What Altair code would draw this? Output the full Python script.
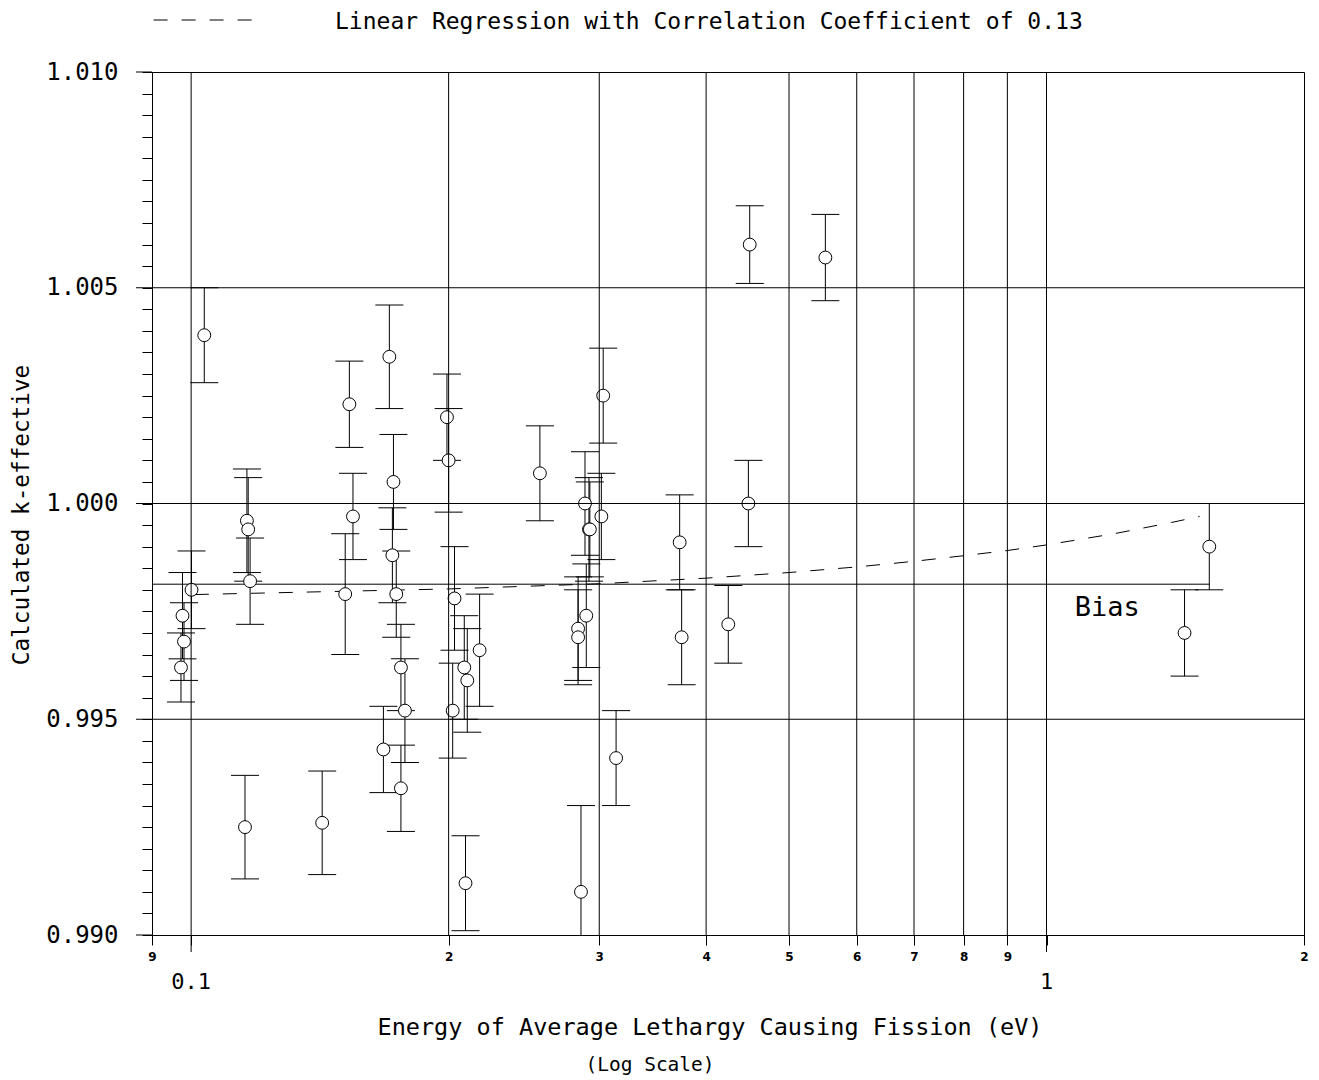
import altair as alt
import pandas as pd

# ---- data ----
energy = [0.1036, 0.1531, 0.1705, 0.1991, 0.2000, 0.1724, 0.1546, 0.1162, 0.1166, 0.1172,
          0.1001, 0.0977, 0.0981, 0.0973, 0.1514, 0.1719, 0.1737, 0.1759, 0.1778, 0.1759,
          0.1678, 0.2032, 0.2022, 0.2086, 0.2103, 0.2174, 0.2093, 0.1156, 0.1423, 0.2557,
          0.3032, 0.2887, 0.3017, 0.2918, 0.2925, 0.2897, 0.2834, 0.2834, 0.3139, 0.2856,
          0.4498, 0.5514, 0.4482, 0.3725, 0.3745, 0.4246, 1.5499, 1.4500]
keff = [1.0039, 1.0023, 1.0034, 1.0020, 1.0010, 1.0005, 0.9997, 0.9996, 0.9994, 0.9982,
        0.9980, 0.9974, 0.9968, 0.9962, 0.9979, 0.9988, 0.9979, 0.9962, 0.9952, 0.9934,
        0.9943, 0.9978, 0.9952, 0.9962, 0.9959, 0.9966, 0.9912, 0.9925, 0.9926, 1.0007,
        1.0025, 1.0000, 0.9997, 0.9994, 0.9994, 0.9974, 0.9971, 0.9969, 0.9941, 0.9910,
        1.0060, 1.0057, 1.0000, 0.9991, 0.9969, 0.9972, 0.9990, 0.9970]
keff_err = [0.0011, 0.0010, 0.0012, 0.0010, 0.0012, 0.0011, 0.0010, 0.0012, 0.0012, 0.0010,
            0.0009, 0.0010, 0.0009, 0.0008, 0.0014, 0.0011, 0.0010, 0.0010, 0.0012, 0.0010,
            0.0010, 0.0012, 0.0011, 0.0012, 0.0012, 0.0013, 0.0011, 0.0012, 0.0012, 0.0011,
            0.0011, 0.0012, 0.0010, 0.0012, 0.0011, 0.0012, 0.0012, 0.0011, 0.0011, 0.0020,
            0.0009, 0.0010, 0.0010, 0.0011, 0.0011, 0.0009, 0.0010, 0.0010]

# dashed regression line
reg_energy = [0.101, 0.2, 0.3, 0.4, 0.5, 0.6, 0.7, 0.8, 0.9, 1.0, 1.2, 1.4, 1.51]
reg_keff = [0.99789, 0.99802, 0.99814, 0.99827, 0.99840, 0.99853, 0.99866,
            0.99879, 0.99891, 0.99904, 0.99930, 0.99956, 0.99970]

bias_keff = 0.99813
bias_energy = [0.09, 1.55]
bias_label = "Bias"
bias_label_pos = [1.178, 0.99758]

legend_text = "Linear Regression with Correlation Coefficient of 0.13"
x_title = "Energy of Average Lethargy Causing Fission (eV)"
x_subtitle = "(Log Scale)"
y_title = "Calculated k-effective"

# x axis: small-digit ticks and the two decade labels
x_ticks = [0.09, 0.1, 0.2, 0.3, 0.4, 0.5, 0.6, 0.7, 0.8, 0.9, 1.0, 2.0]
x_decades = [0.1, 1.0]
x_decade_labels = ["0.1", "1"]
x_grid = [0.1, 0.2, 0.3, 0.4, 0.5, 0.6, 0.7, 0.8, 0.9, 1.0]

# y axis: minor ticks every 0.0005, labelled majors every 0.005
y_ticks = [0.9900, 0.9905, 0.9910, 0.9915, 0.9920, 0.9925, 0.9930, 0.9935, 0.9940, 0.9945,
           0.9950, 0.9955, 0.9960, 0.9965, 0.9970, 0.9975, 0.9980, 0.9985, 0.9990, 0.9995,
           1.0000, 1.0005, 1.0010, 1.0015, 1.0020, 1.0025, 1.0030, 1.0035, 1.0040, 1.0045,
           1.0050, 1.0055, 1.0060, 1.0065, 1.0070, 1.0075, 1.0080, 1.0085, 1.0090, 1.0095,
           1.0100]
y_major = [0.990, 0.995, 1.000, 1.005, 1.010]
y_grid = [0.995, 1.000, 1.005]

MONO = "DejaVu Sans Mono"

df = pd.DataFrame({"energy": energy, "keff": keff, "err": keff_err})
df["lo"] = df["keff"] - df["err"]
df["hi"] = df["keff"] + df["err"]

reg_df = pd.DataFrame({"energy": reg_energy, "keff": reg_keff})
bias_df = pd.DataFrame({"e1": [bias_energy[0]], "e2": [bias_energy[1]], "k": [bias_keff]})
bias_txt_df = pd.DataFrame({"energy": [bias_label_pos[0]], "keff": [bias_label_pos[1]], "t": [bias_label]})
dec_df = pd.DataFrame({"energy": x_decades, "t": x_decade_labels})
xgrid_df = pd.DataFrame({"energy": x_grid})
ygrid_df = pd.DataFrame({"keff": y_grid})
ymaj_df = pd.DataFrame({"keff": y_major})

xscale = alt.Scale(type="log", domain=[0.09, 2.0], nice=False)
yscale = alt.Scale(domain=[0.990, 1.010], nice=False, zero=False)

xaxis = alt.Axis(
    values=x_ticks,
    title=None,
    grid=False,
    domain=True,
    domainColor="black",
    tickColor="black",
    tickWidth=1,
    tickSize=10,
    labelExpr="(datum.value > 0.095 && datum.value < 0.105) || (datum.value > 0.95 && datum.value < 1.05) ? '' : datum.value < 0.1 ? '9' : datum.value > 1.5 ? '2' : format(round(datum.value * 10), 'd')",
    labelFont="DejaVu Sans",
    labelFontSize=12,
    labelFontWeight="bold",
    labelPadding=6,
    labelColor="black",
    labelFlush=False,
    labelOverlap=False,
)

yaxis = alt.Axis(
    values=y_ticks,
    title=None,
    grid=False,
    domain=True,
    domainColor="black",
    tickColor="black",
    tickWidth=1,
    tickSize=10,
    labelExpr="abs(datum.value * 200 - round(datum.value * 200)) < 0.000001 ? format(datum.value, '.3f') : ''",
    labelFont=MONO,
    labelFontSize=24,
    labelPadding=24,
    labelColor="black",
    labelFlush=False,
    labelOverlap=False,
)

# every layer carries the same axis definition so the shared axes are kept
X = lambda f: alt.X(f, scale=xscale, axis=xaxis)
Y = lambda f: alt.Y(f, scale=yscale, axis=yaxis)

base = alt.Chart(df)

bars = base.mark_rule(color="black", strokeWidth=1, clip=True).encode(
    x=X("energy:Q"), y=Y("lo:Q"), y2="hi:Q",
)
cap_lo = base.mark_tick(orient="horizontal", size=28, thickness=1, color="black", opacity=1, clip=True).encode(
    x=X("energy:Q"), y=Y("lo:Q"),
)
cap_hi = base.mark_tick(orient="horizontal", size=28, thickness=1, color="black", opacity=1, clip=True).encode(
    x=X("energy:Q"), y=Y("hi:Q"),
)
points = base.mark_point(shape="circle", size=165, filled=True, fill="white", fillOpacity=1,
                         stroke="black", strokeWidth=1, opacity=1, clip=True).encode(
    x=X("energy:Q"), y=Y("keff:Q"),
)
reg = alt.Chart(reg_df).mark_line(color="black", strokeWidth=1, strokeDash=[14, 14], clip=True).encode(
    x=X("energy:Q"), y=Y("keff:Q"),
)
bias = alt.Chart(bias_df).mark_rule(color="black", strokeWidth=1).encode(
    x=X("e1:Q"), x2="e2:Q", y=Y("k:Q"),
)
bias_txt = alt.Chart(bias_txt_df).mark_text(font=MONO, fontSize=27, color="black", align="center", baseline="middle").encode(
    x=X("energy:Q"), y=Y("keff:Q"), text="t:N",
)

# grid lines (drawn above the symbols, as in the reference)
xgrid = alt.Chart(xgrid_df).mark_rule(color="black", strokeWidth=1).encode(
    x=X("energy:Q"), y=alt.value(0), y2=alt.value(863)
)
ygrid = alt.Chart(ygrid_df).mark_rule(color="black", strokeWidth=1).encode(
    y=Y("keff:Q"), x=alt.value(0), x2=alt.value(1152)
)
# longer ticks and big labels for the decades, longer ticks for labelled k values
xdec_tick = alt.Chart(dec_df).mark_rule(color="black", strokeWidth=1).encode(
    x=X("energy:Q"), y=alt.value(863), y2=alt.value(880)
)
xdec_lbl = alt.Chart(dec_df).mark_text(font=MONO, fontSize=22, color="black", align="center", baseline="middle").encode(
    x=X("energy:Q"), y=alt.value(910), text="t:N"
)
ymaj_tick = alt.Chart(ymaj_df).mark_rule(color="black", strokeWidth=1).encode(
    y=Y("keff:Q"), x=alt.value(-16), x2=alt.value(0)
)

one = pd.DataFrame({"t": [legend_text], "xt": [x_title], "xs": [x_subtitle], "yt": [y_title]})
legend_line = alt.Chart(one).mark_rule(color="black", strokeWidth=1, strokeDash=[14, 14]).encode(
    x=alt.value(1.6), x2=alt.value(100), y=alt.value(-52)
)
legend_lbl = alt.Chart(one).mark_text(font=MONO, fontSize=23, color="black", align="left", baseline="middle").encode(
    x=alt.value(183), y=alt.value(-50), text="t:N"
)
xtitle = alt.Chart(one).mark_text(font=MONO, fontSize=23.5, color="black", align="center", baseline="middle").encode(
    x=alt.value(558), y=alt.value(956), text="xt:N"
)
xsub = alt.Chart(one).mark_text(font=MONO, fontSize=19.5, color="black", align="center", baseline="middle").encode(
    x=alt.value(498), y=alt.value(993), text="xs:N"
)
ytitle = alt.Chart(one).mark_text(font=MONO, fontSize=22.7, color="black", align="center", baseline="middle", angle=270).encode(
    x=alt.value(-130), y=alt.value(443), text="yt:N"
)

chart = alt.layer(
    bars, cap_lo, cap_hi, reg, bias, points, xgrid, ygrid, bias_txt,
    xdec_tick, xdec_lbl, ymaj_tick,
    legend_line, legend_lbl, xtitle, xsub, ytitle
).properties(
    width=1152, height=863,
    autosize=alt.AutoSizeParams(type="none"),
    padding={"left": 144, "top": 64, "right": 7, "bottom": 144},
    background="white",
).configure_view(stroke="black", strokeWidth=1)

chart.save("out.html", embed_options={"renderer": "svg", "actions": False})
